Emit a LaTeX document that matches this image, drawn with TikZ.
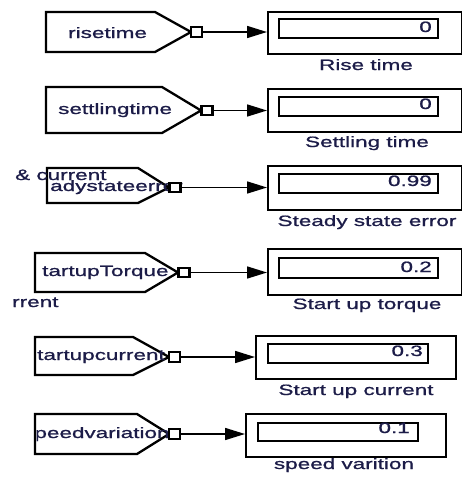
\documentclass[tikz,border=0pt]{standalone}
\usepackage{fontspec}
\setmainfont[FakeStretch=1.5, FakeBold=1.0]{Liberation Sans}
\usetikzlibrary{arrows.meta}
\definecolor{txt}{RGB}{28,28,72}
\tikzset{
  tagshape/.style={draw=black, line width=2.3pt, line join=miter, fill=white},
  port/.style={draw=black, fill=white, line width=2.2pt, minimum width=11pt, minimum height=9.5pt, inner sep=0pt},
  disp/.style={draw=black, line width=2.2pt, inner sep=0pt, fill=white},
  field/.style={draw=black, line width=2.2pt, inner sep=0pt},
  conn/.style={line width=1.6pt, -{Triangle[length=20pt,width=12pt]}},
  txtstyle/.style={text=txt, inner sep=0pt, font=\fontsize{15}{17}\selectfont},
}
\begin{document}
\begin{tikzpicture}[x=1pt, y=-1pt]
\useasboundingbox (0,0) rectangle (462,477);

% ---------- goto tags (left column) ----------
% rise time
\draw[tagshape] (46,12) -- (155,12) -- (191,32) -- (155,52) -- (46,52) -- cycle;
\node[txtstyle, anchor=base west] (t1) at (68,38) {risetime};
% settling time
\draw[tagshape] (46,87) -- (162,87) -- (201,110.5) -- (162,133) -- (46,133) -- cycle;
\node[txtstyle, anchor=base west] (t2) at (58,114) {settlingtime};
% steady state error
\draw[tagshape] (47,168) -- (138,168) -- (169,187.5) -- (138,203) -- (47,203) -- cycle;
\node[txtstyle, anchor=base west] (t3) at (50,191) {adystateerror};
\node[txtstyle, anchor=base west] (x1) at (15,180) {\& current};
% start up torque
\draw[tagshape] (35,253) -- (145,253) -- (178,272.5) -- (145,292) -- (35,292) -- cycle;
\node[txtstyle, anchor=base west] (t4) at (42,276) {tartupTorque};
\node[txtstyle, anchor=base west] (x2) at (12,307) {rrent};
% start up current
\draw[tagshape] (35,337) -- (133,337) -- (169,357) -- (133,375) -- (35,375) -- cycle;
\node[txtstyle, anchor=base west] (t5) at (37,360) {tartupcurrent};
% speed variation
\draw[tagshape] (35,414) -- (137,414) -- (169,434) -- (137,454) -- (35,454) -- cycle;
\begin{scope}
  \clip (36.5,414) rectangle (175,454);
  \node[txtstyle, anchor=base west] (t6) at (23,438) {speedvariation};
\end{scope}

% ---------- output ports ----------
\node[port] (p1) at (196.5,32) {};
\node[port] (p2) at (207,110.5) {};
\node[port] (p3) at (175,187.5) {};
\node[port] (p4) at (184,272.5) {};
\node[port] (p5) at (174.5,357) {};
\node[port] (p6) at (174.5,434) {};

% ---------- display blocks ----------
\node[disp, minimum width=194pt, minimum height=42pt, anchor=north west] (d1) at (267,11) {};
\node[disp, minimum width=194pt, minimum height=43pt, anchor=north west] (d2) at (267,88) {};
\node[disp, minimum width=194pt, minimum height=44pt, anchor=north west] (d3) at (267,165) {};
\node[disp, minimum width=194pt, minimum height=46pt, anchor=north west] (d4) at (267,248) {};
\node[disp, minimum width=200pt, minimum height=43pt, anchor=north west] (d5) at (255,335) {};
\node[disp, minimum width=200pt, minimum height=43pt, anchor=north west] (d6) at (245,413) {};

% value fields inside the displays
\node[field, minimum width=159pt, minimum height=19pt, anchor=north west] (f1) at (278,18) {};
\node[field, minimum width=159pt, minimum height=19pt, anchor=north west] (f2) at (278,96) {};
\node[field, minimum width=159pt, minimum height=19pt, anchor=north west] (f3) at (278,173) {};
\node[field, minimum width=159pt, minimum height=20pt, anchor=north west] (f4) at (278,257) {};
\node[field, minimum width=160pt, minimum height=19pt, anchor=north west] (f5) at (267,343) {};
\node[field, minimum width=160pt, minimum height=18pt, anchor=north west] (f6) at (257,422) {};

\node[txtstyle, anchor=base east] (v1) at (432,32) {0};
\node[txtstyle, anchor=base east] (v2) at (432,109) {0};
\node[txtstyle, anchor=base east] (v3) at (432,186) {0.99};
\node[txtstyle, anchor=base east] (v4) at (432,272) {0.2};
\node[txtstyle, anchor=base east] (v5) at (423,356) {0.3};
\node[txtstyle, anchor=base east] (v6) at (410,433) {0.1};

% block captions
\node[txtstyle, anchor=base] (c1) at (366,70) {Rise time};
\node[txtstyle, anchor=base] (c2) at (367,147) {Settling time};
\node[txtstyle, anchor=base] (c3) at (367,226) {Steady state error};
\node[txtstyle, anchor=base] (c4) at (367,309) {Start up torque};
\node[txtstyle, anchor=base] (c5) at (356,395) {Start up current};
\node[txtstyle, anchor=base] (c6) at (344,469) {speed varition};

% ---------- signal lines ----------
\draw[conn] (p1.east) -- (d1.west |- p1.east);
\draw[conn] (p2.east) -- (d2.west |- p2.east);
\draw[conn] (p3.east) -- (d3.west |- p3.east);
\draw[conn] (p4.east) -- (d4.west |- p4.east);
\draw[conn] (p5.east) -- (d5.west |- p5.east);
\draw[conn] (p6.east) -- (d6.west |- p6.east);
\end{tikzpicture}
\end{document}
